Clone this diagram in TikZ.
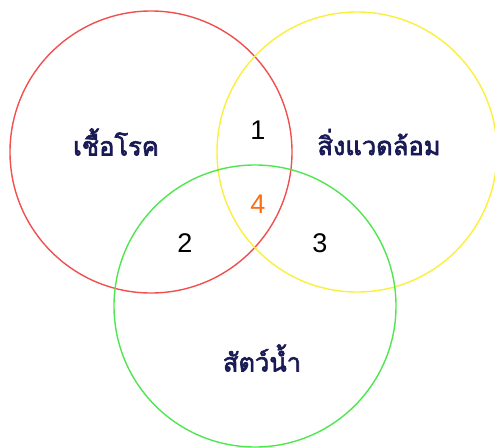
\documentclass[tikz,border=0pt]{standalone}
\usepackage{fontspec}
\setmainfont{Liberation Sans}
\newfontfamily\thaifont[Script=Thai,FakeBold=2.5]{Loma}
\usepackage{xcolor}
\definecolor{vred}{RGB}{240,80,80}
\definecolor{vyellow}{RGB}{250,240,60}
\definecolor{vgreen}{RGB}{80,230,80}
\definecolor{vorange}{RGB}{250,110,20}
\definecolor{vnavy}{RGB}{25,25,85}
\tikzset{
  % circles of the diagram
  ring/.style={line width=1.4pt},
  % labels in Thai
  word/.style={text=vnavy,font=\thaifont\fontsize{25.5}{28}\selectfont},
  num/.style={font=\fontsize{27}{30}\selectfont},
}

\begin{document}
\begin{tikzpicture}[x=1pt,y=-1pt]
\useasboundingbox (0,0) rectangle (495,447);
\draw[ring,vred] (151,152) circle (141);
\draw[ring,vyellow] (357,152) circle (140);
\draw[ring,vgreen] (255,306) circle (141);

%\draw (0,0) grid (495,447);
\node[word] (w1) at (116,142) {เชื้อโรค};
\node[word] (w2) at (379,142) {สิ่งแวดล้อม};
\node[word] (w3) at (262,358) {สัตว์น้ำ};

\node[num] (n1) at (258,130) {1};
\node[num] (n2) at (185,243) {2};
\node[num] (n3) at (320,243) {3};
\node[num,vorange] (n4) at (258,204) {4};
\end{tikzpicture}
\end{document}
